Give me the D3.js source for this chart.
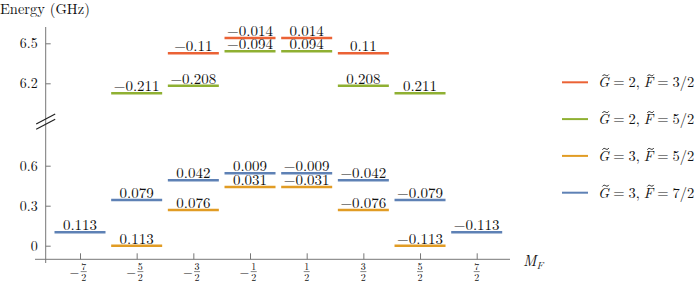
<!DOCTYPE html>
<html>
<head>
<meta charset="utf-8">
<script src="https://cdn.jsdelivr.net/npm/d3@7"></script>
<style>
  body { margin: 0; background: #fff; }
</style>
</head>
<body>
<div id="chart"></div>
<script>
// ---- data ----
const mFValues = [-3.5, -2.5, -1.5, -0.5, 0.5, 1.5, 2.5, 3.5];
const mFTickLabels = ["−7/2", "−5/2", "−3/2", "−1/2", "1/2", "3/2", "5/2", "7/2"];
const upperTicks = [6.2, 6.5];
const lowerTicks = [0, 0.3, 0.6];

const legendG = [2, 2, 3, 3];
const legendF = ["3/2", "5/2", "5/2", "7/2"];

// G=2, F=3/2
const redMF = [-1.5, -0.5, 0.5, 1.5];
const redEnergy = [6.425, 6.54, 6.54, 6.425];
const redLabels = ["−0.11", "−0.014", "0.014", "0.11"];
// G=2, F=5/2
const greenMF = [-2.5, -1.5, -0.5, 0.5, 1.5, 2.5];
const greenEnergy = [6.125, 6.182, 6.441, 6.441, 6.182, 6.125];
const greenLabels = ["−0.211", "−0.208", "−0.094", "0.094", "0.208", "0.211"];
// G=3, F=5/2
const orangeMF = [-2.5, -1.5, -0.5, 0.5, 1.5, 2.5];
const orangeEnergy = [0, 0.268, 0.44, 0.44, 0.268, 0];
const orangeLabels = ["0.113", "0.076", "0.031", "−0.031", "−0.076", "−0.113"];
// G=3, F=7/2
const blueMF = [-3.5, -2.5, -1.5, -0.5, 0.5, 1.5, 2.5, 3.5];
const blueEnergy = [0.1, 0.343, 0.49, 0.543, 0.543, 0.49, 0.343, 0.1];
const blueLabels = ["0.113", "0.079", "0.042", "0.009", "−0.009", "−0.042", "−0.079", "−0.113"];

const colors = ["#EB6235", "#8FB032", "#E19C24", "#5E81B5"];
const FONT = '"Latin Modern Roman"';

const series = [
  { mf: redMF, e: redEnergy, lab: redLabels },
  { mf: greenMF, e: greenEnergy, lab: greenLabels },
  { mf: orangeMF, e: orangeEnergy, lab: orangeLabels },
  { mf: blueMF, e: blueEnergy, lab: blueLabels }
];

// ---- layout ----
const width = 699, height = 284;
const axisX = 45.7, axisY = 259.3;

const svg = d3.select("#chart").append("svg")
  .attr("width", width)
  .attr("height", height);

const x = d3.scaleLinear().domain([-3.5, 3.5]).range([80, 476.7]);
const yUpper = d3.scaleLinear().domain([6.2, 6.5]).range([83.3, 43.3]);
const yLower = d3.scaleLinear().domain([0, 0.6]).range([245.7, 165.7]);
const yOf = e => e > 3 ? yUpper(e) : yLower(e);

function txt(parent, size) {
  return parent.append("text")
    .style("font-family", FONT)
    .style("font-size", size + "px")
    .attr("fill", "#111");
}

// axes lines
svg.append("line")
  .attr("x1", axisX).attr("x2", axisX)
  .attr("y1", 27).attr("y2", 263)
  .attr("stroke", "#777").attr("stroke-width", 1);
svg.append("line")
  .attr("x1", 35).attr("x2", 510)
  .attr("y1", axisY).attr("y2", axisY)
  .attr("stroke", "#777").attr("stroke-width", 1);

// axis break marks
[0, 5.3].forEach(dy => {
  svg.append("line")
    .attr("x1", axisX - 9.5).attr("y1", 124 + dy)
    .attr("x2", axisX + 9.5).attr("y2", 114 + dy)
    .attr("stroke", "#222").attr("stroke-width", 1.2);
});

// y axes (ticks pointing inward)
function yAxis(scale, ticks) {
  const g = svg.append("g")
    .attr("transform", `translate(${axisX},0)`)
    .call(d3.axisLeft(scale).tickValues(ticks).tickSizeInner(-5).tickSizeOuter(0)
      .tickPadding(8).tickFormat(d => d === 0 ? "0" : d3.format(".1f")(d)));
  g.select(".domain").remove();
  g.selectAll(".tick line").attr("stroke", "#777");
  g.selectAll(".tick text")
    .style("font-family", FONT).style("font-size", "14px").attr("fill", "#111");
}
yAxis(yUpper, upperTicks);
yAxis(yLower, lowerTicks);

// x axis ticks
const xg = svg.append("g")
  .attr("transform", `translate(0,${axisY})`)
  .call(d3.axisBottom(x).tickValues(mFValues).tickSizeInner(-6).tickSizeOuter(0).tickFormat(""));
xg.select(".domain").remove();
xg.selectAll(".tick line").attr("stroke", "#777");

// fraction tick labels
mFValues.forEach((m, i) => {
  const lab = mFTickLabels[i];
  const neg = lab.startsWith("−");
  const [num, den] = lab.replace("−", "").split("/");
  const cx = x(m) + (neg ? 3.7 : 0);
  const g = svg.append("g");
  txt(g, 10).attr("x", cx).attr("y", 269.5).attr("text-anchor", "middle").text(num);
  g.append("line").attr("x1", cx - 3).attr("x2", cx + 3)
    .attr("y1", 271.6).attr("y2", 271.6).attr("stroke", "#111").attr("stroke-width", 0.5);
  txt(g, 10).attr("x", cx).attr("y", 280.5).attr("text-anchor", "middle").text(den);
  if (neg) {
    txt(g, 12).attr("x", x(m) - 5.5).attr("y", 275.5).attr("text-anchor", "middle").text("−");
  }
});

// axis titles
txt(svg, 14.5).attr("x", 0).attr("y", 13.5).text("Energy (GHz)");
const mfLabel = txt(svg, 15).attr("x", 523).attr("y", 266);
mfLabel.append("tspan").style("font-style", "italic").text("M");
mfLabel.append("tspan").style("font-style", "italic").style("font-size", "10.5px")
  .attr("dy", 3).text("F");

// energy levels
const halfW = 0.45;
series.forEach((s, si) => {
  const pts = s.mf.map((m, i) => ({ m, e: s.e[i], lab: s.lab[i] }));
  const g = svg.append("g");
  g.selectAll("line").data(pts).enter().append("line")
    .attr("x1", d => x(d.m - halfW))
    .attr("x2", d => x(d.m + halfW))
    .attr("y1", d => yOf(d.e))
    .attr("y2", d => yOf(d.e))
    .attr("stroke", colors[si])
    .attr("stroke-width", 2.5);
  g.selectAll("text").data(pts).enter().append("text")
    .style("font-family", FONT).style("font-size", "15px").attr("fill", "#111")
    .attr("x", d => x(d.m))
    .attr("y", d => yOf(d.e) - 2.2)
    .attr("text-anchor", "middle")
    .text(d => d.lab);
});

// legend: label built from tspans, tilde accents drawn as small paths
const legendY = d3.scalePoint().domain(d3.range(4)).range([82.3, 192.7]);
const LS = 14.5;
legendG.forEach((gv, i) => {
  const yy = legendY(i);
  const base = yy + 5;
  svg.append("line")
    .attr("x1", 562).attr("x2", 588)
    .attr("y1", yy).attr("y2", yy)
    .attr("stroke", colors[i]).attr("stroke-width", 2);
  const t = txt(svg, LS).attr("x", 598).attr("y", base);
  const gSpan = t.append("tspan").style("font-style", "italic").text("G");
  t.append("tspan").attr("dx", 4).text("=");
  t.append("tspan").attr("dx", 4).text(`${gv},`);
  const fSpan = t.append("tspan").attr("dx", 4).style("font-style", "italic").text("F");
  t.append("tspan").attr("dx", 4).text("=");
  t.append("tspan").attr("dx", 4).text(legendF[i]);
  [gSpan, fSpan].forEach(sp => {
    const node = sp.node();
    const start = node.getStartPositionOfChar(0).x;
    const end = node.getEndPositionOfChar(0).x;
    const cx = (start + end) / 2 + 2;
    const ty = base - 12;
    svg.append("path")
      .attr("d", `M${cx - 3.2},${ty + 0.8} C${cx - 2},${ty - 1} ${cx - 1},${ty - 0.6} ${cx},${ty} S${cx + 2},${ty + 1} ${cx + 3.2},${ty - 0.8}`)
      .attr("fill", "none").attr("stroke", "#111").attr("stroke-width", 0.9);
  });
});
</script>
</body>
</html>
